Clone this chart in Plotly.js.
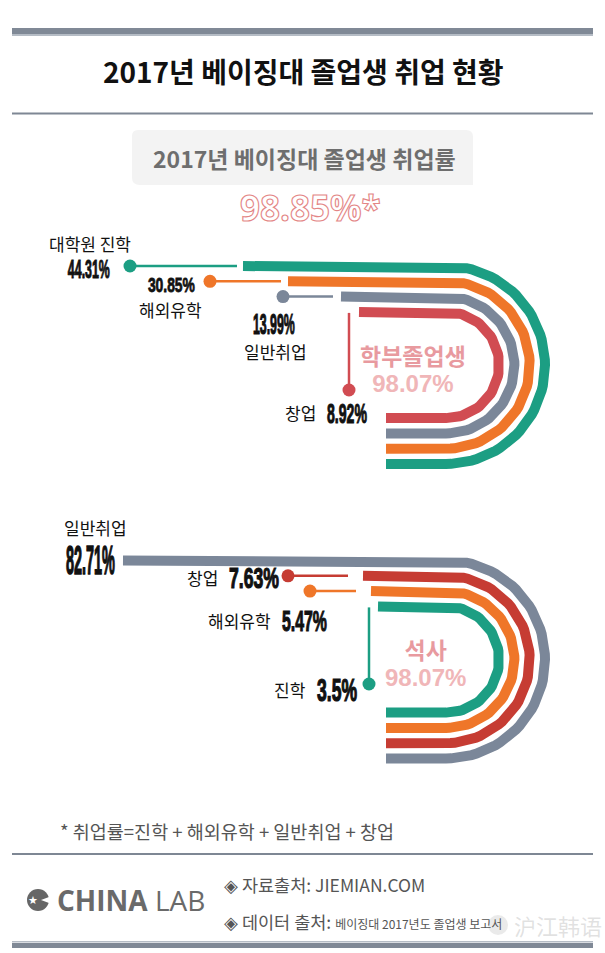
<!DOCTYPE html>
<html><head><meta charset="utf-8">
<script src="https://cdn.plot.ly/plotly-3.0.1.min.js"></script>
<style>html,body{margin:0;padding:0;background:#fff}</style>
</head><body><div id="chart" style="width:605px;height:953px"></div>
<script>
// ---------------- DATA ----------------
const overallRateLabel = '98.85%*';
const ugCategories = ['대학원 진학', '해외유학', '일반취업', '창업'];
const ugValues = [44.31, 30.85, 13.99, 8.92];
const ugGroupLabel = '학부졸업생';
const ugTotalLabel = '98.07%';
const maCategories = ['일반취업', '창업', '해외유학', '진학'];
const maValues = [82.71, 7.63, 5.47, 3.5];
const maGroupLabel = '석사';
const maTotalLabel = '98.07%';

// ---------------- STYLE / GEOMETRY ----------------
const C = {green:'#1c9e83', orange:'#ef7629', gray:'#7b8799', redA:'#d14c52', redB:'#c63c33'};
const ugColors = [C.green, C.orange, C.gray, C.redA];
const maColors = [C.gray, C.redB, C.orange, C.green];
const KR = 'Noto Sans CJK KR, sans-serif';
const NUM = 'Liberation Sans Narrow, Liberation Sans, Arial, sans-serif';
const NUM_BASE = 15;
const geo = {arcCx: 446, endX: 386, outerR: 99, spacing: 15.3, width: 10};
const ugGeo = {
  cy: 365,
  starts: [243, 288, 341, 359],
  conn: [{t:'h', dot:130, end:237}, {t:'h', dot:210, end:281}, {t:'h', dot:283, end:333}, {t:'v', x:349, dotY:390}],
  cat: [{x:90, y:243, a:'center'}, {x:170, y:309.5, a:'center'}, {x:275, y:351, a:'center'}, {x:318, y:412, a:'right'}],
  num: [{x:112, y:268, a:'right', s:25, w:42}, {x:197, y:284, a:'right', s:21, w:47}, {x:297, y:323, a:'right', s:29, w:42}, {x:325, y:412, a:'left', s:28, w:40}],
  label: {x:413, y:367}
};
const maGeo = {
  cy: 659.5,
  starts: [123, 363, 371, 378],
  conn: [null, {t:'h', dot:288, end:348}, {t:'h', dot:310, end:356}, {t:'v', x:369, dotY:684}],
  cat: [{x:95, y:527, a:'center'}, {x:220, y:577, a:'right'}, {x:273, y:620, a:'right'}, {x:308, y:689, a:'right'}],
  num: [{x:117, y:559, a:'right', s:40, w:49}, {x:227, y:577, a:'left', s:29, w:50}, {x:280, y:620, a:'left', s:29, w:45}, {x:315, y:689, a:'left', s:31, w:40}],
  label: {x:425, y:661}
};

const traces = [];
const annotations = [];
const numFix = []; // {idx, w, a, sy}

function trackPath(i, g, startX) {
  const r = geo.outerR - i * geo.spacing;
  const yTop = g.cy - r, yBot = g.cy + r;
  const xs = [startX, geo.arcCx], ys = [yTop, yTop];
  const n = 60;
  for (let k = 1; k < n; k++) {
    const th = -Math.PI / 2 + Math.PI * k / n;
    xs.push(geo.arcCx + r * Math.cos(th));
    ys.push(g.cy + r * Math.sin(th));
  }
  xs.push(geo.arcCx, geo.endX); ys.push(yBot, yBot);
  return {xs, ys, yTop};
}

function buildGroup(cats, vals, colors, g, groupLabel, totalLabel) {
  cats.forEach((cat, i) => {
    const p = trackPath(i, g, g.starts[i]);
    traces.push({type:'scatter', mode:'lines', x:p.xs, y:p.ys, line:{color:colors[i], width:geo.width, shape:'linear'}, hoverinfo:'skip', name:cat});
    const c = g.conn[i];
    if (c) {
      if (c.t === 'h') {
        traces.push({type:'scatter', mode:'lines', x:[c.dot, c.end], y:[p.yTop, p.yTop], line:{color:colors[i], width:2.5}, hoverinfo:'skip'});
        traces.push({type:'scatter', mode:'markers', x:[c.dot], y:[p.yTop], marker:{color:colors[i], size:13}, hoverinfo:'skip'});
      } else {
        traces.push({type:'scatter', mode:'lines', x:[c.x, c.x], y:[p.yTop + 1, c.dotY], line:{color:colors[i], width:2.5}, hoverinfo:'skip'});
        traces.push({type:'scatter', mode:'markers', x:[c.x], y:[c.dotY], marker:{color:colors[i], size:13}, hoverinfo:'skip'});
      }
    }
    const cl = g.cat[i];
    annotations.push({x:cl.x, y:cl.y, xref:'x', yref:'y', text:cat, showarrow:false, xanchor:cl.a, yanchor:'middle', font:{family:KR, size:17, color:'#111'}});
    const nl = g.num[i];
    numFix.push({idx: annotations.length, w: nl.w, a: nl.a, sy: nl.s / NUM_BASE});
    annotations.push({x:nl.x, y:nl.y, xref:'x', yref:'y', text:vals[i] + '%', showarrow:false, xanchor:nl.a, yanchor:'middle', font:{family:NUM, size:NUM_BASE, color:'#111', weight:'bold'}});
  });
  annotations.push({x:g.label.x, y:g.label.y, xref:'x', yref:'y',
    text:'<span style="font-size:23px">' + groupLabel + '</span><br><span style="font-family:Liberation Sans, Arial, sans-serif;font-size:24px;color:#f0b6b8">' + totalLabel + '</span>',
    showarrow:false, xanchor:'center', yanchor:'middle', align:'center', font:{family:KR, size:21, color:'#e89a9f', weight:'bold'}});
}

buildGroup(ugCategories, ugValues, ugColors, ugGeo, ugGroupLabel, ugTotalLabel);
buildGroup(maCategories, maValues, maColors, maGeo, maGroupLabel, maTotalLabel);

// header / footer texts
annotations.push({x:303, y:71, xref:'x', yref:'y', text:'2017년 베이징대 졸업생 취업 현황', showarrow:false, xanchor:'center', yanchor:'middle', font:{family:KR, size:28, color:'#111', weight:'bold'}});
annotations.push({x:304, y:158, xref:'x', yref:'y', text:'2017년 베이징대 졸업생 취업률', showarrow:false, xanchor:'center', yanchor:'middle', font:{family:KR, size:23, color:'#6e6e6e', weight:'bold'}});
const bigIdx = annotations.length;
annotations.push({x:310, y:207, xref:'x', yref:'y', text:overallRateLabel, showarrow:false, xanchor:'center', yanchor:'middle', font:{family:'Open Sans, sans-serif', size:35, color:'#ffffff', weight:'bold'}});
annotations.push({x:58, y:831, xref:'x', yref:'y', text:'* 취업률=진학 + 해외유학 + 일반취업 + 창업', showarrow:false, xanchor:'left', yanchor:'middle', font:{family:KR, size:18.5, color:'#555'}});
annotations.push({x:55, y:900, xref:'x', yref:'y', text:'<b>CHINA</b> LAB', showarrow:false, xanchor:'left', yanchor:'middle', font:{family:'Open Sans, sans-serif', size:28, color:'#6a6a6a'}});
annotations.push({x:33, y:900, xref:'x', yref:'y', text:'★', showarrow:false, xanchor:'center', yanchor:'middle', font:{family:'DejaVu Sans', size:11, color:'#ffffff'}});
annotations.push({x:222, y:884, xref:'x', yref:'y', text:'◈ 자료출처: JIEMIAN.COM', showarrow:false, xanchor:'left', yanchor:'middle', font:{family:KR, size:17.5, color:'#555'}});
annotations.push({x:222, y:921, xref:'x', yref:'y', text:'◈ 데이터 출처: <span style="font-size:12px">베이징대 2017년도 졸업생 보고서</span>', showarrow:false, xanchor:'left', yanchor:'middle', font:{family:KR, size:17.5, color:'#555'}});
annotations.push({x:604, y:925, xref:'x', yref:'y', text:'沪江韩语', showarrow:false, xanchor:'right', yanchor:'middle', font:{family:'Noto Sans CJK SC', size:22, color:'rgba(170,170,170,0.35)'}});

const shapes = [
  {type:'rect', xref:'x', yref:'y', x0:12, x1:593, y0:28, y1:34, fillcolor:'#808996', line:{width:0}},
  {type:'rect', xref:'x', yref:'y', x0:12, x1:593, y0:34, y1:36, fillcolor:'#b5bcc5', line:{width:0}},
  {type:'rect', xref:'x', yref:'y', x0:12, x1:593, y0:112.5, y1:114.5, fillcolor:'#7e8794', line:{width:0}},
  {type:'path', xref:'x', yref:'y', path:'M 138,130 L 466,130 Q 473,130 473,137 L 473,185 L 140,185 Q 132,185 132,178 L 132,136 Q 132,130 138,130 Z', fillcolor:'#f3f3f3', line:{width:0}, layer:'below'},
  {type:'rect', xref:'x', yref:'y', x0:12, x1:593, y0:853, y1:855, fillcolor:'#7e8794', line:{width:0}},
  {type:'rect', xref:'x', yref:'y', x0:12, x1:593, y0:941, y1:942.5, fillcolor:'#b5bcc5', line:{width:0}},
  {type:'rect', xref:'x', yref:'y', x0:12, x1:593, y0:943, y1:948, fillcolor:'#808996', line:{width:0}},
  {type:'circle', xref:'x', yref:'y', x0:27, x1:49, y0:889, y1:911, fillcolor:'#666', line:{width:0}},
  {type:'path', xref:'x', yref:'y', path:'M 49,897 L 41,900 L 49,903 Z', fillcolor:'#fff', line:{width:0}},
  {type:'circle', xref:'x', yref:'y', x0:488, x1:508, y0:915, y1:935, fillcolor:'rgba(170,170,170,0.25)', line:{width:0}}
];

const layout = {
  width:605, height:953, margin:{l:0, r:0, t:0, b:0},
  paper_bgcolor:'#fff', plot_bgcolor:'#fff', showlegend:false,
  xaxis:{range:[0,605], visible:false, fixedrange:true},
  yaxis:{range:[953,0], visible:false, fixedrange:true},
  annotations, shapes
};

Plotly.newPlot('chart', traces, layout, {staticPlot:true, displayModeBar:false}).then(() => {
  numFix.forEach(f => {
    const t = document.querySelector('g.annotation[data-index="' + f.idx + '"] text');
    if (!t) return;
    t.style.stroke = '#111';
    t.style.strokeWidth = '0.6px';
    const b = t.getBBox();
    const sx = f.w / b.width;
    const ax = f.a === 'right' ? b.x + b.width : (f.a === 'left' ? b.x : b.x + b.width / 2);
    const ay = b.y + b.height / 2;
    t.setAttribute('transform', 'translate(' + ax + ',' + ay + ') scale(' + sx + ',' + f.sy + ') translate(' + (-ax) + ',' + (-ay) + ')');
  });
  const bt = document.querySelector('g.annotation[data-index="' + bigIdx + '"] text');
  if (bt) { bt.style.stroke = '#e38585'; bt.style.strokeWidth = '1.1px'; }
});
</script></body></html>
